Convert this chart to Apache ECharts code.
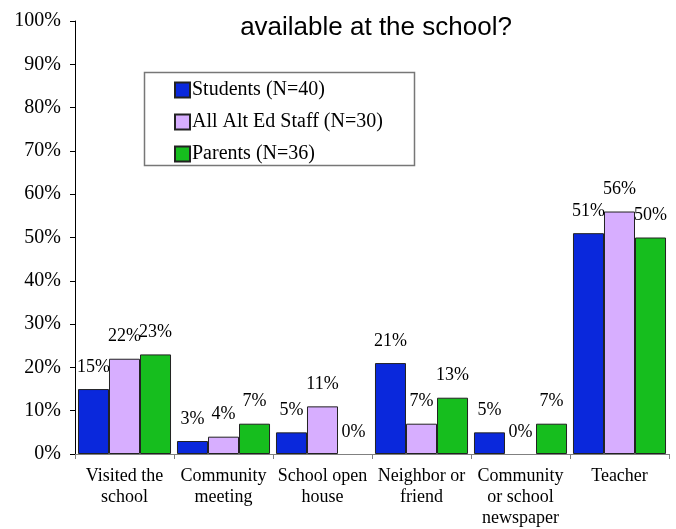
<!DOCTYPE html>
<html><head><meta charset="utf-8">
<script src="https://cdn.jsdelivr.net/npm/echarts@6/dist/echarts.min.js"></script>
<style>html,body{margin:0;padding:0;background:#fff}#c{width:676px;height:529px}</style>
</head><body><div id="c"></div>
<script>
var categories = ['Visited the\nschool', 'Community\nmeeting', 'School open\nhouse', 'Neighbor or\nfriend', 'Community\nor school\nnewspaper', 'Teacher'];
var students = [15, 3, 5, 21, 5, 51];
var staff = [22, 4, 11, 7, 0, 56];
var parents = [23, 7, 0, 13, 7, 50];
var seriesNames = ['Students (N=40)', 'All Alt Ed Staff (N=30)', 'Parents (N=36)'];
var yTicks = [0, 10, 20, 30, 40, 50, 60, 70, 80, 90, 100];

var serif = '"Liberation Serif", "Times New Roman", serif';
var colors = ['#0A28DC', '#D7AEFF', '#16BE1E'];
function mk(name, data, i) {
  return {
    name: name, type: 'bar',
    data: data.map(function (v) { return v === 0 ? { value: 0, itemStyle: { borderWidth: 0 } } : v; }),
    barGap: '0%', barCategoryGap: '6%',
    itemStyle: { color: colors[i], borderColor: '#222', borderWidth: 1 },
    label: { show: true, position: 'top', distance: 13, formatter: '{c}%', fontFamily: serif, fontSize: 18, color: '#000' }
  };
}
var chart = echarts.init(document.getElementById('c'), null, { renderer: 'canvas' });
chart.setOption({
  animation: false,
  backgroundColor: '#fff',
  title: { text: 'available at the school?', left: 371, textAlign: 'center', top: 10,
    textStyle: { fontFamily: '"Liberation Sans", Arial, sans-serif', fontSize: 26, fontWeight: 'normal', color: '#000' } },
  grid: { left: 75, right: 7, top: 21, bottom: 75, containLabel: false },
  graphic: [{ type: 'rect', shape: { x: 144.5, y: 72.5, width: 270, height: 93 },
    style: { fill: '#fff', stroke: '#777', lineWidth: 1.5 }, z: 1 }],
  legend: { orient: 'vertical', left: 169, top: 75, itemWidth: 15, itemHeight: 15, itemGap: 12, z: 5,
    icon: 'rect', data: seriesNames,
    textStyle: { fontFamily: serif, fontSize: 20, color: '#000', padding: [0, 0, 0, -3] } },
  xAxis: { type: 'category', data: categories,
    axisLine: { lineStyle: { color: '#808080', width: 1 } },
    axisTick: { show: true, length: 5, alignWithLabel: false, lineStyle: { color: '#808080' } },
    axisLabel: { interval: 0, margin: 12, fontFamily: serif, fontSize: 18, lineHeight: 21, color: '#000' } },
  yAxis: { type: 'value', min: 0, max: 100, interval: 10,
    axisLine: { show: true, lineStyle: { color: '#000', width: 1 } },
    axisTick: { show: true, length: 5, lineStyle: { color: '#000' } },
    splitLine: { show: false },
    axisLabel: { margin: 14, formatter: function (v) { return yTicks.indexOf(v) >= 0 ? v + '%' : ''; }, fontFamily: serif, fontSize: 20, color: '#000' } },
  series: [mk(seriesNames[0], students, 0), mk(seriesNames[1], staff, 1), mk(seriesNames[2], parents, 2)]
});
</script></body></html>
